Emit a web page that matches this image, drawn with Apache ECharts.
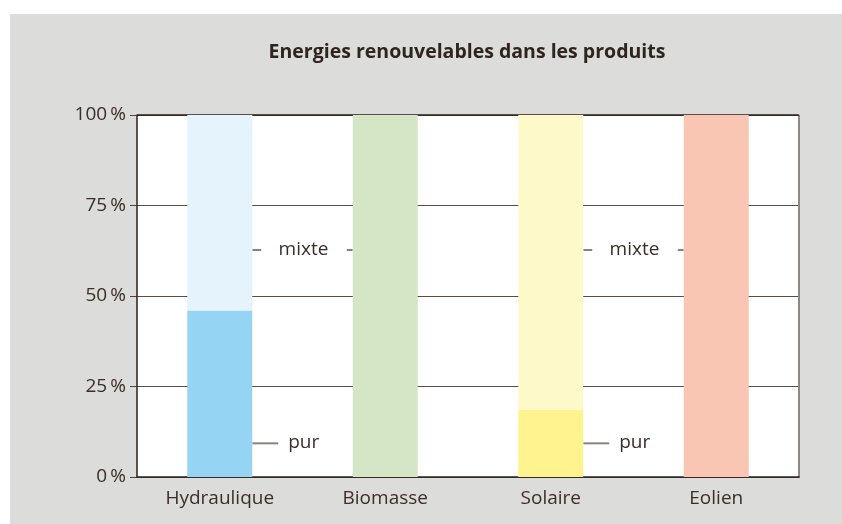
<!DOCTYPE html>
<html lang="fr">
<head>
    <meta charset="utf-8" />
    <title>Energies renouvelables</title>
    <script src="https://cdn.jsdelivr.net/npm/echarts@6/dist/echarts.min.js"></script>
    <style>
        html, body { margin: 0; padding: 0; background: #ffffff; }
        #main { position: absolute; left: 10px; top: 14px; width: 832px; height: 510px; background: #dcdcdb; }
    </style>
</head>
<body>
    <div id="main"></div>
    <script>
        // données
        var categories = ['Hydraulique', 'Biomasse', 'Solaire', 'Eolien'];
        var pur = [46, 100, 18.5, 100];
        var mixte = [54, 0, 81.5, 0];
        var yTicks = [0, 25, 50, 75, 100];

        var colPur = ['#96d4f4', '#d4e6c6', '#fff38f', '#f8c6b2'];
        var colMixte = ['#e5f4fc', '#d4e6c6', '#fef9c9', '#f8c6b2'];

        var txt = '#3b2e28';
        var font = 'Open Sans';

        var myChart = echarts.init(document.getElementById('main'));

        var option = {
            animation: false,
            title: {
                text: 'Energies renouvelables dans les produits',
                left: 452, top: 23, textAlign: 'center',
                textStyle: { fontFamily: font, fontWeight: 'bold', fontSize: 19.5, color: '#2e2420' }
            },
            grid: { left: 127, top: 101, right: 43, bottom: 47, show: true, backgroundColor: '#ffffff', borderWidth: 0 },
            xAxis: {
                type: 'category',
                data: categories,
                axisTick: { show: false },
                axisLine: { lineStyle: { color: '#2b211c', width: 1.5 } },
                axisLabel: { color: txt, fontFamily: font, fontSize: 19, margin: 12 }
            },
            yAxis: {
                type: 'value',
                min: 0, max: 100, interval: 25,
                axisLine: { show: true, lineStyle: { color: '#2b211c', width: 1.5 } },
                axisTick: { show: true, length: 7, lineStyle: { color: '#4a3d36' } },
                splitLine: { lineStyle: { color: '#5a4a42', width: 1 } },
                axisLabel: {
                    color: txt, fontFamily: font, fontSize: 19, margin: 11,
                    formatter: function (v) { return yTicks.indexOf(v) >= 0 ? v + '\u2009%' : ''; }
                }
            },
            series: [
                {
                    name: 'pur', type: 'bar', stack: 'a', barWidth: 65,
                    data: pur.map(function (v, i) { return { value: v, itemStyle: { color: colPur[i] } }; })
                },
                {
                    name: 'mixte', type: 'bar', stack: 'a', barWidth: 65,
                    data: mixte.map(function (v, i) { return { value: v, itemStyle: { color: colMixte[i] } }; })
                }
            ]
        };
        myChart.setOption(option);

        // annotations "mixte" / "pur" entre les barres
        var notes = [
            { label: 'mixte', from: 0, to: 1, y: 62.7 },
            { label: 'mixte', from: 2, to: 3, y: 62.7 },
            { label: 'pur', from: 0, to: null, y: 9.3 },
            { label: 'pur', from: 2, to: null, y: 9.3 }
        ];
        var half = 32.5;
        var g = [];
        var fnt = '19px "' + font + '"';
        var dash = { stroke: '#8a8380', lineWidth: 2 };
        // cadre : bord droit ombré, bord haut
        var gr = myChart.getModel().getComponent('grid').coordinateSystem.getRect();
        g.push({ type: 'line', shape: { x1: gr.x + gr.width, y1: gr.y, x2: gr.x + gr.width, y2: gr.y + gr.height + 1 }, style: { stroke: '#8d8884', lineWidth: 2 } });
        g.push({ type: 'line', shape: { x1: gr.x, y1: gr.y, x2: gr.x + gr.width, y2: gr.y }, style: { stroke: '#2b211c', lineWidth: 1.5 } });
        notes.forEach(function (n) {
            var p = myChart.convertToPixel('grid', [n.from, n.y]);
            var x0 = p[0] + half;
            var y = p[1];
            if (n.to !== null) {
                var q = myChart.convertToPixel('grid', [n.to, n.y]);
                var x1 = q[0] - half;
                var mid = (x0 + x1) / 2;
                g.push({ type: 'line', shape: { x1: x0, y1: y, x2: x0 + 9, y2: y }, style: dash });
                g.push({ type: 'line', shape: { x1: x1 - 6, y1: y, x2: x1, y2: y }, style: dash });
                g.push({ type: 'text', x: mid + 1, y: y, style: { text: n.label, fill: txt, font: fnt, align: 'center', verticalAlign: 'middle' } });
            } else {
                g.push({ type: 'line', shape: { x1: x0, y1: y, x2: x0 + 26, y2: y }, style: dash });
                g.push({ type: 'text', x: x0 + 36, y: y - 1, style: { text: n.label, fill: txt, font: fnt, align: 'left', verticalAlign: 'middle' } });
            }
        });
        myChart.setOption({ graphic: g });
    </script>
</body>
</html>
